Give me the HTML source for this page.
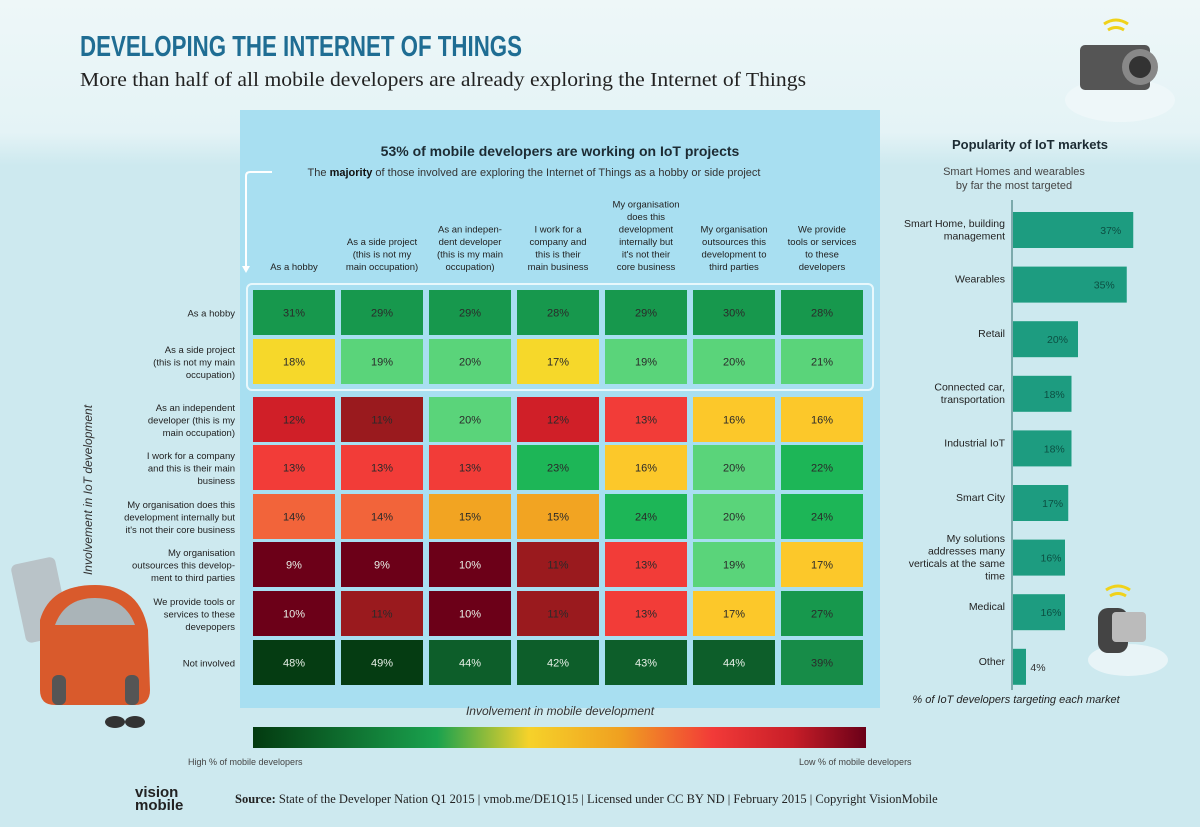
<!DOCTYPE html>
<html><head><meta charset="utf-8"><style>
html,body{margin:0;padding:0;width:1200px;height:827px;overflow:hidden;background:#cde9ef}
svg{display:block}
text{font-family:"Liberation Sans",sans-serif}
</style></head><body>
<svg id="c" width="1200" height="827" viewBox="0 0 1200 827" xmlns="http://www.w3.org/2000/svg">
<defs>
<linearGradient id="bg" x1="0" y1="0" x2="0" y2="1"><stop offset="0" stop-color="#eef7f8"/><stop offset="0.16" stop-color="#e4f3f6"/><stop offset="0.2" stop-color="#cde9ef"/></linearGradient>
<linearGradient id="scale" x1="0" y1="0" x2="1" y2="0">
<stop offset="0" stop-color="#033a10"/><stop offset="0.3" stop-color="#1aa24e"/><stop offset="0.45" stop-color="#f6d22a"/><stop offset="0.6" stop-color="#f0a020"/><stop offset="0.75" stop-color="#f23a38"/><stop offset="0.88" stop-color="#c81e28"/><stop offset="1" stop-color="#6a0018"/></linearGradient>
</defs>
<rect width="1200" height="827" fill="url(#bg)"/>
<ellipse cx="1120" cy="100" rx="55" ry="22" fill="#eef7f9"/>
<rect x="240" y="110" width="640" height="598" fill="#a8dff1"/>
<text x="80" y="56" font-family="Liberation Sans Narrow,Liberation Sans,sans-serif" font-weight="bold" font-size="29" fill="#1f6d93" textLength="442" lengthAdjust="spacingAndGlyphs">DEVELOPING THE INTERNET OF THINGS</text>
<text x="80" y="86" font-family="Liberation Serif,serif" font-size="20" fill="#222" textLength="726" lengthAdjust="spacingAndGlyphs" style="font-family:'Liberation Serif',serif">More than half of all mobile developers are already exploring the Internet of Things</text>
<text x="560" y="156" text-anchor="middle" font-size="14" font-weight="bold" fill="#1c2b33">53% of mobile developers are working on IoT projects</text>
<text x="534" y="176" text-anchor="middle" font-size="11" fill="#333">The <tspan font-weight="bold" fill="#111">majority</tspan> of those involved are exploring the Internet of Things as a hobby or side project</text>
<path d="M272,172 H250 Q246,172 246,176 V268" fill="none" stroke="#fff" stroke-width="2"/>
<path d="M242,266 L250,266 L246,273 Z" fill="#fff"/>
<rect x="247" y="284" width="626" height="106" rx="5" fill="none" stroke="#e8f8fc" stroke-width="2"/>
<text x="313" y="715" text-anchor="middle" font-size="12" font-style="italic" fill="#333" transform="translate(247,0)">Involvement in mobile development</text>
<text transform="translate(92,490) rotate(-90)" text-anchor="middle" font-size="12" font-style="italic" fill="#333">Involvement in IoT development</text>
<rect x="253" y="727" width="613" height="21" fill="url(#scale)"/>
<text x="188" y="765" font-size="9" fill="#444">High % of mobile developers</text>
<text x="799" y="765" font-size="9" fill="#444">Low % of mobile developers</text>
<text x="1030" y="149" text-anchor="middle" font-size="13" font-weight="bold" fill="#1c2b33">Popularity of IoT markets</text>
<text x="1014" y="175" text-anchor="middle" font-size="11" fill="#444">Smart Homes and wearables</text>
<text x="1014" y="189" text-anchor="middle" font-size="11" fill="#444">by far the most targeted</text>
<line x1="1012" y1="200" x2="1012" y2="690" stroke="#2a6a6a" stroke-width="1"/>
<text x="1016" y="703" text-anchor="middle" font-size="11" font-style="italic" fill="#222">% of IoT developers  targeting each market</text>
<g>
<rect x="18" y="560" width="45" height="80" rx="6" fill="#b9c3c8" transform="rotate(-12 40 600)"/>
<path d="M40,620 Q50,585 95,585 Q140,585 148,630 L150,690 Q150,705 135,705 L55,705 Q40,705 40,690 Z" fill="#d95a2c"/>
<path d="M55,625 Q65,598 95,598 Q125,598 135,625 Z" fill="#aab4b8"/>
<rect x="52" y="675" width="14" height="30" rx="6" fill="#555"/><rect x="125" y="675" width="14" height="30" rx="6" fill="#555"/>
<ellipse cx="115" cy="722" rx="10" ry="6" fill="#333"/><ellipse cx="135" cy="722" rx="10" ry="6" fill="#333"/>
</g>
<g>
<rect x="1080" y="45" width="70" height="45" rx="5" fill="#555"/><circle cx="1140" cy="67" r="18" fill="#888"/><circle cx="1140" cy="67" r="11" fill="#333"/>
<path d="M1104,24 q12,-8 24,0 M1108,30 q8,-5 16,0" stroke="#f0d21a" stroke-width="3" fill="none"/>
</g>
<g>
<ellipse cx="1128" cy="660" rx="40" ry="16" fill="#e8f4f7"/>
<rect x="1098" y="608" width="30" height="45" rx="10" fill="#444"/><rect x="1112" y="612" width="34" height="30" rx="4" fill="#bbb"/>
<path d="M1106,590 q12,-8 24,0 M1110,596 q8,-5 16,0" stroke="#f0d21a" stroke-width="3" fill="none"/>
</g>
<g>
<text x="135" y="797" font-size="15" font-weight="bold" fill="#222">vision</text>
<text x="135" y="810" font-size="15" font-weight="bold" fill="#222">mobile</text>
</g>
<text x="235" y="803" font-size="12.5" fill="#222" style="font-family:'Liberation Serif',serif"><tspan font-weight="bold">Source:</tspan> State of the Developer Nation Q1 2015 | vmob.me/DE1Q15  |  Licensed under CC BY ND  |  February 2015  |  Copyright VisionMobile</text>
<g id="heat"></g>
<g id="bars"></g>
</svg>
<script>
const colLabels = [["As a hobby"],["As a side project","(this is not my","main occupation)"],["As an indepen-","dent developer","(this is my main","occupation)"],["I work for a","company and","this is their","main business"],["My organisation","does this","development","internally but","it's not their","core business"],["My organisation","outsources this","development to","third parties"],["We provide","tools or services","to these","developers"]];
const rowLabels = [["As a hobby"],["As a side project","(this is not my main","occupation)"],["As an independent","developer (this is my","main occupation)"],["I work for a company","and this is their main","business"],["My organisation does this","development internally but","it's not their core business"],["My organisation","outsources this develop-","ment to third parties"],["We provide tools or","services to these","devepopers"],["Not involved"]];
const heatValues = [
[31,29,29,28,29,30,28],
[18,19,20,17,19,20,21],
[12,11,20,12,13,16,16],
[13,13,13,23,16,20,22],
[14,14,15,15,24,20,24],
[9,9,10,11,13,19,17],
[10,11,10,11,13,17,27],
[48,49,44,42,43,44,39]];
const marketNames = [["Smart Home, building","management"],["Wearables"],["Retail"],["Connected car,","transportation"],["Industrial IoT"],["Smart City"],["My solutions","addresses many","verticals at the same","time"],["Medical"],["Other"]];
const marketValues = [37,35,20,18,18,17,16,16,4];

const NS="http://www.w3.org/2000/svg";
function mk(tag,attrs,parent){const e=document.createElementNS(NS,tag);for(const k in attrs)e.setAttribute(k,attrs[k]);parent.appendChild(e);return e;}
function colorFor(v,r){
  if(r===1&&(v===18||v===17))return "#f6d82a";
  if(v<=10)return "#6c0018";
  if(v<=11)return "#9a1a1e";
  if(v<=12)return "#d01f28";
  if(v<=13)return "#f23c38";
  if(v<=14)return "#f2643a";
  if(v<=15)return "#f2a422";
  if(v<=17)return "#fcc82a";
  if(v<=21)return "#5ad47a";
  if(v<=24)return "#1db657";
  if(v<=31)return "#17984d";
  if(v<=40)return "#178c48";
  if(v<=44)return "#0d5e2a";
  return "#053c12";
}
function textCol(v){return v<=10||v>=42?"#e8f0e8":"#2a2a2a";}
const colX=i=>253+i*88, cellW=82, cellH=45;
const rowY=[290,339,397,445,494,542,591,640];
const heat=document.getElementById('heat');
colLabels.forEach((lines,i)=>{
  const t=mk('text',{x:colX(i)+cellW/2,'text-anchor':'middle','font-size':'9.5',fill:'#222'},heat);
  
  
  lines.forEach((l,j)=>{mk('tspan',{x:colX(i)+cellW/2,y:270-(lines.length-1-j)*12.5},t).textContent=l;});
});
rowLabels.forEach((lines,r)=>{
  const cy=rowY[r]+cellH/2;
  const t=mk('text',{'text-anchor':'end','font-size':'9.5',fill:'#222'},heat);
  
  
  lines.forEach((l,j)=>{mk('tspan',{x:235,y:cy+4+(j-(lines.length-1)/2)*12.5},t).textContent=l;});
});
heatValues.forEach((row,r)=>row.forEach((v,c)=>{
  const rc=mk('rect',{x:colX(c),y:rowY[r],width:cellW,height:cellH,fill:colorFor(v,r)},heat);
  
  
  const t=mk('text',{x:colX(c)+cellW/2,y:rowY[r]+cellH/2+4,'text-anchor':'middle','font-size':'11',fill:textCol(v)},heat);
  
  
  t.textContent=v+'%';
}));
const bars=document.getElementById('bars');
const bx0=1013, pxPer=3.25, barTop=i=>212+i*54.6, barH=36;
marketValues.forEach((v,i)=>{
  const y=barTop(i), w=v*pxPer;
  const b=mk('rect',{x:bx0,y:y,width:w,height:barH,fill:'#1d9c80'},bars);
  
  
  const inside=v>=10;
  const vx=inside?(v>30?bx0+w-12:bx0+w/2+12):bx0+w+12;
  const t=mk('text',{x:vx,y:y+barH/2+4,'text-anchor':inside&&v>30?'end':'middle','font-size':'10.5',fill:inside?'#0c4f42':'#333'},bars);
  
  
  t.textContent=v+'%';
  const lines=marketNames[i];
  const l=mk('text',{'text-anchor':'end','font-size':'10.5',fill:'#222'},bars);
  
  
  lines.forEach((s,j)=>{mk('tspan',{x:1005,y:y+barH/2+4+(j-(lines.length-1)/2)*12.5-(lines.length>1?1:6)},l).textContent=s;});
});
</script>
</body></html>
